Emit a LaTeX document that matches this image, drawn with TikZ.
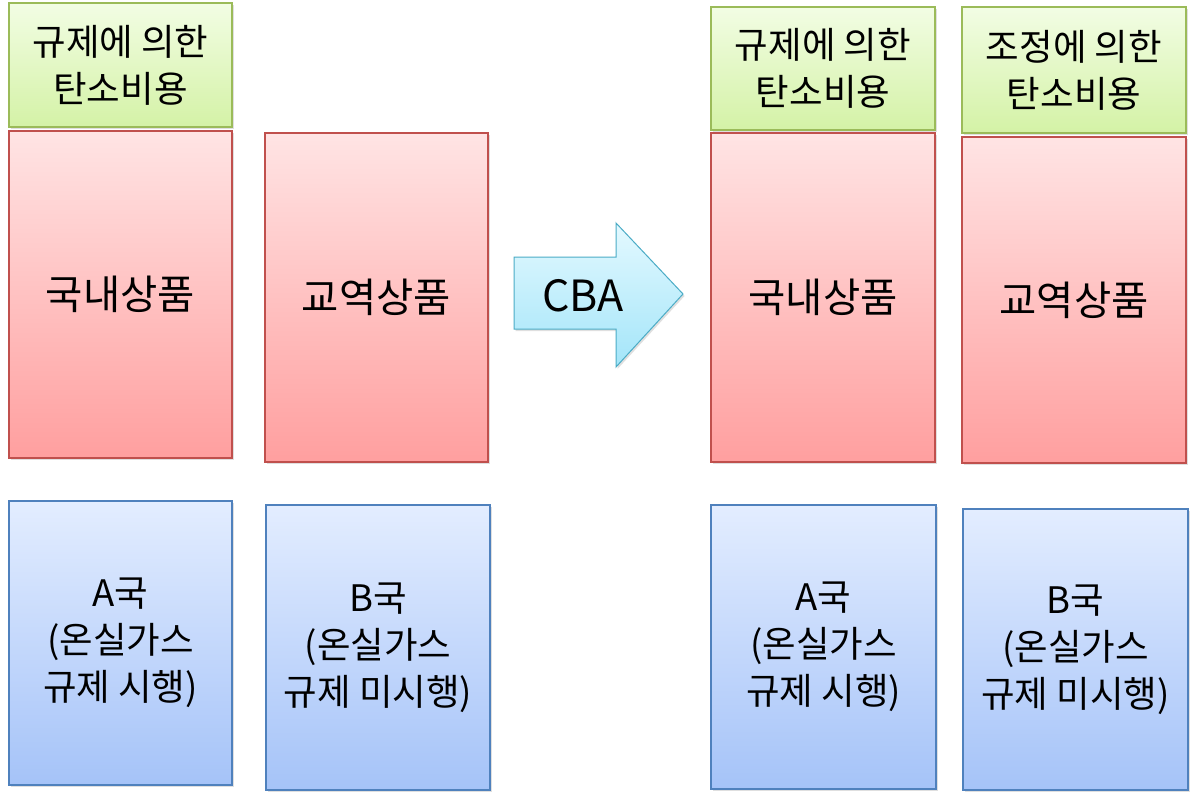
\documentclass[tikz,border=0pt]{standalone}
\usepackage{fontspec}
\newfontfamily\kr{Noto Sans CJK KR}
\usetikzlibrary{shadows}
\definecolor{gtop}{HTML}{F2FDE4}
\definecolor{gbot}{HTML}{D4F2A6}
\definecolor{gline}{HTML}{9BBB59}
\definecolor{ptop}{HTML}{FFE4E4}
\definecolor{pbot}{HTML}{FF9F9F}
\definecolor{pline}{HTML}{C0504D}
\definecolor{btop}{HTML}{E3EDFF}
\definecolor{bbot}{HTML}{A5C3F8}
\definecolor{bline}{HTML}{4F81BD}
\definecolor{atop}{HTML}{E4F9FF}
\definecolor{abot}{HTML}{A3E5F9}
\definecolor{aline}{HTML}{4BACC6}
\begin{document}
\begin{tikzpicture}[x=1pt,y=-1pt,
  box/.style={draw, line width=1.2pt, inner sep=0pt, align=center,
    font=\kr\fontsize{36.5}{47}\selectfont,
    drop shadow={shadow xshift=1.5pt, shadow yshift=-2pt, opacity=0.25}},
  gbox/.style={box, draw=gline, top color=gtop, bottom color=gbot},
  pbox/.style={box, draw=pline, top color=ptop, bottom color=pbot,
    font=\kr\fontsize{40.5}{47}\selectfont},
  bbox/.style={box, draw=bline, top color=btop, bottom color=bbot},
  sz/.style 2 args={minimum width=#1pt, minimum height=#2pt}
]
\useasboundingbox[fill=white] (0,0) rectangle (1191,792);
% left side
\node[gbox, sz={223}{124}] (g1) at (120.5,65) {규제에 의한\\탄소비용};
\node[pbox, sz={223}{327}] (p1) at (120.5,294.5) {국내상품};
\node[pbox, sz={223}{329}] (p2) at (376.5,297.5) {교역상품};
\node[bbox, sz={223}{284}] (b1) at (120.5,643) {A국\\(온실가스\\규제 시행)};
\node[bbox, sz={224}{285}] (b2) at (378,647.5) {B국\\(온실가스\\규제 미시행)};
% arrow
\draw[line width=1pt, draw=aline, top color=atop, bottom color=abot,
  drop shadow={shadow xshift=1.5pt, shadow yshift=-2pt, opacity=0.25}]
  (514,257) -- (616,257) -- (616,223) -- (683,294) -- (616,367)
  -- (616,329) -- (514,329) -- cycle;
\node[font=\kr\fontsize{43}{50}\selectfont] (cba) at (583,296) {CBA};
% right side
\node[gbox, sz={224}{123}] (g3) at (823,68.5) {규제에 의한\\탄소비용};
\node[pbox, sz={224}{329}] (p3) at (823,297.5) {국내상품};
\node[gbox, sz={224}{126}] (g4) at (1074,70) {조정에 의한\\탄소비용};
\node[pbox, sz={224}{326}] (p4) at (1074,300) {교역상품};
\node[bbox, sz={225}{284}] (b3) at (823.5,647) {A국\\(온실가스\\규제 시행)};
\node[bbox, sz={225}{281}] (b4) at (1075.5,649.5) {B국\\(온실가스\\규제 미시행)};
\end{tikzpicture}
\end{document}
